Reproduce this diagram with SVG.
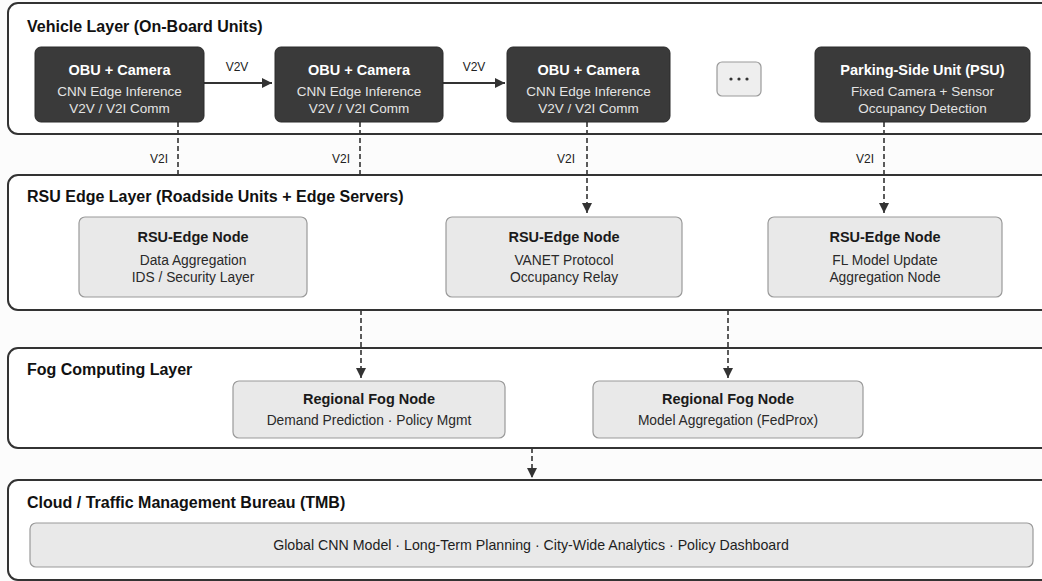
<svg xmlns="http://www.w3.org/2000/svg" width="1042" height="581" viewBox="0 0 1042 581">
  <defs>
    <marker id="arrow" viewBox="0 0 10 10" refX="10" refY="5" markerWidth="10" markerHeight="10" markerUnits="userSpaceOnUse" orient="auto">
      <path d="M0,0 L10,5 L0,10 Z" fill="#333"/>
    </marker>
    <style>
      .layer { fill: #ffffff; stroke: #333; stroke-width: 2; }
      .layer-title { font-family: "Liberation Sans", Arial, sans-serif; font-weight: bold; font-size: 16px; fill: #111; }
      .dark { fill: #3a3a3a; stroke: #2a2a2a; stroke-width: 1; }
      .light { fill: #e9e9e9; stroke: #9a9a9a; stroke-width: 1.2; }
      .dk-title { font-family: "Liberation Sans", Arial, sans-serif; font-weight: bold; font-size: 14.5px; fill: #ffffff; text-anchor: middle; }
      .dk-sub { font-family: "Liberation Sans", Arial, sans-serif; font-size: 13.5px; fill: #e4e4e4; text-anchor: middle; }
      .lt-title { font-family: "Liberation Sans", Arial, sans-serif; font-weight: bold; font-size: 14.5px; fill: #1a1a1a; text-anchor: middle; }
      .lt-sub { font-family: "Liberation Sans", Arial, sans-serif; font-size: 13.8px; fill: #2a2a2a; text-anchor: middle; }
      .solid { stroke: #333; stroke-width: 2; fill: none; }
      .dash { stroke: #333; stroke-width: 1.6; stroke-dasharray: 5 3; fill: none; }
      .lbl { font-family: "Liberation Sans", Arial, sans-serif; font-size: 12px; fill: #222; text-anchor: middle; }
    </style>
  </defs>

  <rect x="0" y="0" width="1042" height="581" fill="#fcfcfc"/>

  <!-- Layer bands -->
  <g id="layer-vehicle">
    <rect class="layer" x="8" y="3" width="1060" height="131" rx="10"/>
    <text class="layer-title" x="27" y="32">Vehicle Layer (On-Board Units)</text>
  </g>
  <g id="layer-rsu">
    <rect class="layer" x="8" y="175" width="1060" height="135" rx="10"/>
    <text class="layer-title" x="27" y="202">RSU Edge Layer (Roadside Units + Edge Servers)</text>
  </g>
  <g id="layer-fog">
    <rect class="layer" x="8" y="348" width="1060" height="100" rx="10"/>
    <text class="layer-title" x="27" y="375">Fog Computing Layer</text>
  </g>
  <g id="layer-cloud">
    <rect class="layer" x="8" y="480" width="1060" height="100" rx="10"/>
    <text class="layer-title" x="27" y="508">Cloud / Traffic Management Bureau (TMB)</text>
  </g>

  <!-- Connectors -->
  <g id="connectors">
    <line class="solid" x1="204" y1="83" x2="272" y2="83" marker-end="url(#arrow)"/>
    <text class="lbl" x="237" y="71">V2V</text>
    <line class="solid" x1="443" y1="83" x2="505" y2="83" marker-end="url(#arrow)"/>
    <text class="lbl" x="474" y="71">V2V</text>

    <line class="dash" x1="178" y1="122" x2="178" y2="175"/>
    <text class="lbl" x="159" y="163">V2I</text>
    <line class="dash" x1="360" y1="122" x2="360" y2="175"/>
    <text class="lbl" x="341" y="163">V2I</text>
    <line class="dash" x1="587" y1="122" x2="587" y2="213" marker-end="url(#arrow)"/>
    <text class="lbl" x="566" y="163">V2I</text>
    <line class="dash" x1="884" y1="122" x2="884" y2="213" marker-end="url(#arrow)"/>
    <text class="lbl" x="865" y="163">V2I</text>

    <line class="dash" x1="361" y1="310" x2="361" y2="378" marker-end="url(#arrow)"/>
    <line class="dash" x1="728" y1="310" x2="728" y2="378" marker-end="url(#arrow)"/>
    <line class="dash" x1="532" y1="448" x2="532" y2="478" marker-end="url(#arrow)"/>
  </g>

  <!-- Vehicle layer nodes -->
  <g id="obu-1">
    <rect class="dark" x="35" y="47" width="169" height="75" rx="6"/>
    <text class="dk-title" x="119.5" y="75">OBU + Camera</text>
    <text class="dk-sub" x="119.5" y="96">CNN Edge Inference</text>
    <text class="dk-sub" x="119.5" y="113">V2V / V2I Comm</text>
  </g>
  <g id="obu-2">
    <rect class="dark" x="275" y="47" width="168" height="75" rx="6"/>
    <text class="dk-title" x="359" y="75">OBU + Camera</text>
    <text class="dk-sub" x="359" y="96">CNN Edge Inference</text>
    <text class="dk-sub" x="359" y="113">V2V / V2I Comm</text>
  </g>
  <g id="obu-3">
    <rect class="dark" x="507" y="47" width="163" height="75" rx="6"/>
    <text class="dk-title" x="588.5" y="75">OBU + Camera</text>
    <text class="dk-sub" x="588.5" y="96">CNN Edge Inference</text>
    <text class="dk-sub" x="588.5" y="113">V2V / V2I Comm</text>
  </g>
  <g id="more-vehicles">
    <rect x="717" y="62" width="44" height="34" rx="5" fill="#eeeeee" stroke="#9a9a9a" stroke-width="1.2"/>
    <circle cx="731" cy="79" r="1.6" fill="#333"/>
    <circle cx="739" cy="79" r="1.6" fill="#333"/>
    <circle cx="747" cy="79" r="1.6" fill="#333"/>
  </g>
  <g id="psu">
    <rect class="dark" x="815" y="47" width="215" height="75" rx="6"/>
    <text class="dk-title" x="922.5" y="75">Parking-Side Unit (PSU)</text>
    <text class="dk-sub" x="922.5" y="96">Fixed Camera + Sensor</text>
    <text class="dk-sub" x="922.5" y="113">Occupancy Detection</text>
  </g>

  <!-- RSU edge nodes -->
  <g id="rsu-1">
    <rect class="light" x="79" y="217" width="228" height="80" rx="6"/>
    <text class="lt-title" x="193" y="242">RSU-Edge Node</text>
    <text class="lt-sub" x="193" y="265">Data Aggregation</text>
    <text class="lt-sub" x="193" y="282">IDS / Security Layer</text>
  </g>
  <g id="rsu-2">
    <rect class="light" x="446" y="217" width="236" height="80" rx="6"/>
    <text class="lt-title" x="564" y="242">RSU-Edge Node</text>
    <text class="lt-sub" x="564" y="265">VANET Protocol</text>
    <text class="lt-sub" x="564" y="282">Occupancy Relay</text>
  </g>
  <g id="rsu-3">
    <rect class="light" x="768" y="217" width="234" height="80" rx="6"/>
    <text class="lt-title" x="885" y="242">RSU-Edge Node</text>
    <text class="lt-sub" x="885" y="265">FL Model Update</text>
    <text class="lt-sub" x="885" y="282">Aggregation Node</text>
  </g>

  <!-- Fog nodes -->
  <g id="fog-1">
    <rect class="light" x="233" y="381" width="272" height="57" rx="6"/>
    <text class="lt-title" x="369" y="404">Regional Fog Node</text>
    <text class="lt-sub" x="369" y="425">Demand Prediction · Policy Mgmt</text>
  </g>
  <g id="fog-2">
    <rect class="light" x="593" y="381" width="270" height="57" rx="6"/>
    <text class="lt-title" x="728" y="404">Regional Fog Node</text>
    <text class="lt-sub" x="728" y="425">Model Aggregation (FedProx)</text>
  </g>

  <!-- Cloud node -->
  <g id="cloud-services">
    <rect class="light" x="30" y="523" width="1003" height="44" rx="6"/>
    <text class="lt-sub" x="531" y="550" style="font-size:14.2px;fill:#1e1e1e">Global CNN Model · Long-Term Planning · City-Wide Analytics · Policy Dashboard</text>
  </g>
</svg>
